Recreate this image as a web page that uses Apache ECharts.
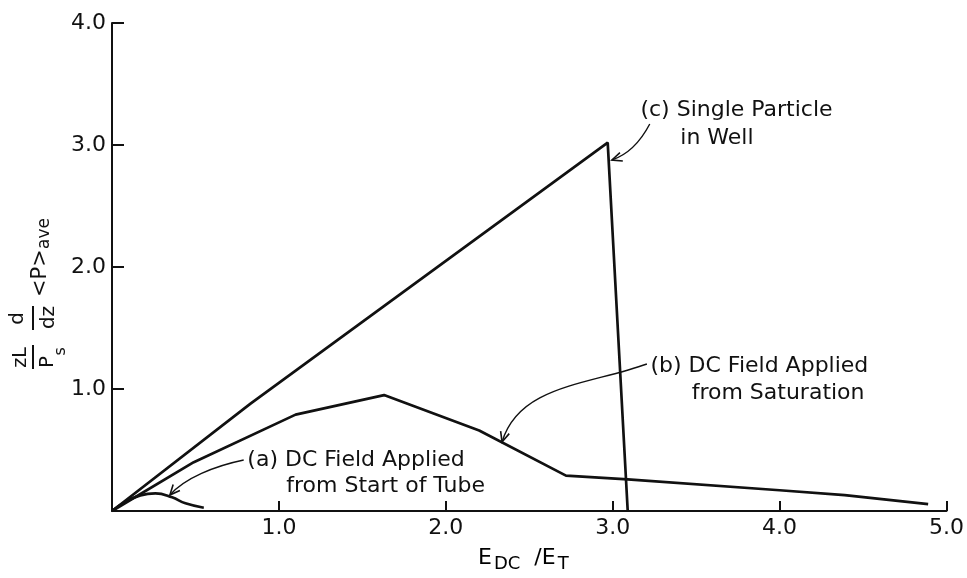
<!DOCTYPE html>
<html>
<head>
<meta charset="utf-8">
<script src="https://cdn.jsdelivr.net/npm/echarts@6/dist/echarts.min.js"></script>
<style>
  html, body { margin: 0; padding: 0; background: #fff; }
  #chart { width: 967px; height: 578px; }
</style>
</head>
<body>
<div id="chart"></div>
<script>
// (a) DC field applied from start of tube
const xA = [0, 0.08, 0.17, 0.26, 0.36, 0.44, 0.55];
const yA = [0, 0.075, 0.128, 0.145, 0.112, 0.063, 0.027];

// (b) DC field applied from saturation
const xB = [0, 0.49, 1.1, 1.63, 2.2, 2.72, 3.09, 4.0, 4.39, 4.89];
const yB = [0, 0.40, 0.79, 0.95, 0.66, 0.29, 0.26, 0.17, 0.13, 0.057];

// (c) single particle in well
const xC = [0, 0.83, 2.97, 3.09];
const yC = [0, 0.88, 3.02, 0];

const xTicks = [1, 2, 3, 4, 5];
const yTicks = [1, 2, 3, 4];

const FONT = 'DejaVu Sans';
const INK = '#111';

const pairs = (xs, ys) => xs.map((x, i) => [x, ys[i]]);

const chart = echarts.init(document.getElementById('chart'), null, { renderer: 'canvas' });

const lineSeries = (name, xs, ys, smooth) => ({
  name, type: 'line', data: pairs(xs, ys), smooth: smooth,
  showSymbol: false, symbol: 'none',
  lineStyle: { color: INK, width: 2.7 },
  animation: false
});

const labelFmt = (list) => (v) => list.some(t => Math.abs(t - v) < 1e-9) ? v.toFixed(1) : '';

chart.setOption({
  animation: false,
  backgroundColor: '#fff',
  grid: { left: 112, right: 18.5, top: 23, bottom: 67 },
  xAxis: {
    type: 'value', min: 0, max: 5, interval: 1,
    axisLine: { lineStyle: { color: INK, width: 2 } },
    axisTick: { inside: true, length: 10, lineStyle: { color: INK, width: 2 } },
    axisLabel: { color: INK, fontFamily: FONT, fontSize: 22, margin: 6, formatter: labelFmt(xTicks) },
    splitLine: { show: false }
  },
  yAxis: {
    type: 'value', min: 0, max: 4, interval: 1,
    axisLine: { lineStyle: { color: INK, width: 2 } },
    axisTick: { inside: true, length: 12, lineStyle: { color: INK, width: 2 } },
    axisLabel: { color: INK, fontFamily: FONT, fontSize: 22, margin: 6, formatter: labelFmt(yTicks) },
    splitLine: { show: false }
  },
  series: [
    lineSeries('(a)', xA, yA, 0.45),
    lineSeries('(b)', xB, yB, false),
    lineSeries('(c)', xC, yC, false)
  ]
});

// Annotation texts and leader arrows, anchored in data space
const notes = [
  { text: '(c) Single Particle', at: [3.166, 3.287] },
  { text: 'in Well', at: [3.405, 3.057] },
  { text: '(b) DC Field Applied', at: [3.226, 1.183] },
  { text: 'from Saturation', at: [3.473, 0.965] },
  { text: '(a) DC Field Applied', at: [0.811, 0.418] },
  { text: 'from Start of Tube', at: [1.044, 0.205] }
];
const arrows = [
  { p0: [3.222, 3.172], c1: [3.156, 3.0], c2: [3.084, 2.918], p1: [2.995, 2.877] },
  { p0: [3.205, 1.205], c1: [2.857, 1.033], c2: [2.439, 1.033], p1: [2.337, 0.566] },
  { p0: [0.789, 0.418], c1: [0.616, 0.369], c2: [0.436, 0.270], p1: [0.347, 0.131] }
];

const px = (p) => chart.convertToPixel({ gridIndex: 0 }, p);
const graphics = [];

notes.forEach(n => {
  const [x, y] = px(n.at);
  graphics.push({
    type: 'text', x, y, silent: true,
    style: { text: n.text, fill: INK, font: `22px "${FONT}"`, textAlign: 'left', textVerticalAlign: 'middle' }
  });
});

arrows.forEach(a => {
  const [x1, y1] = px(a.p0), [cx1, cy1] = px(a.c1), [cx2, cy2] = px(a.c2), [x2, y2] = px(a.p1);
  graphics.push({
    type: 'bezierCurve', silent: true,
    shape: { x1, y1, cpx1: cx1, cpy1: cy1, cpx2: cx2, cpy2: cy2, x2, y2 },
    style: { stroke: INK, lineWidth: 1.4, fill: null }
  });
  // open arrowhead along the final tangent
  const ang = Math.atan2(y2 - cy2, x2 - cx2);
  const L = 11, spread = 0.42;
  const h1 = [x2 - L * Math.cos(ang - spread), y2 - L * Math.sin(ang - spread)];
  const h2 = [x2 - L * Math.cos(ang + spread), y2 - L * Math.sin(ang + spread)];
  graphics.push({
    type: 'polyline', silent: true,
    shape: { points: [h1, [x2, y2], h2] },
    style: { stroke: INK, lineWidth: 1.6, fill: null }
  });
});

// x-axis title: E_DC / E_T
graphics.push({
  type: 'text', x: 478, y: 558, silent: true,
  style: {
    text: '{m|E}{s|DC}{m|  /E}{s|T}',
    textAlign: 'left', textVerticalAlign: 'middle',
    rich: {
      m: { fontFamily: FONT, fontSize: 22, color: INK },
      s: { fontFamily: FONT, fontSize: 18, color: INK, padding: [12, 0, 0, 2] }
    }
  }
});

// y-axis title: (zL/Ps) (d/dz) <P>ave, set upright then turned to read bottom-to-top
const yt = (text, x, y, size, align) => ({
  type: 'text', x, y, silent: true,
  style: { text, fill: INK, font: `${size}px "${FONT}"`, textAlign: align || 'center', textVerticalAlign: 'middle' }
});
const bar = (x1, x2) => ({
  type: 'line', silent: true,
  shape: { x1, y1: 0, x2, y2: 0 },
  style: { stroke: INK, lineWidth: 2 }
});
graphics.push({
  type: 'group', x: 33, y: 372, rotation: Math.PI / 2, silent: true,
  children: [
    yt('zL', 14.5, -12, 19),
    bar(3, 27),
    yt('P', 4, 15, 20, 'left'),
    yt('s', 16.5, 28, 16, 'left'),
    yt('d', 53.5, -15.5, 20),
    bar(42, 66),
    yt('dz', 54.5, 15.5, 20),
    yt('<P>', 75, 8, 21, 'left'),
    yt('ave', 123, 12, 17, 'left')
  ]
});

chart.setOption({ graphic: graphics });
</script>
</body>
</html>
